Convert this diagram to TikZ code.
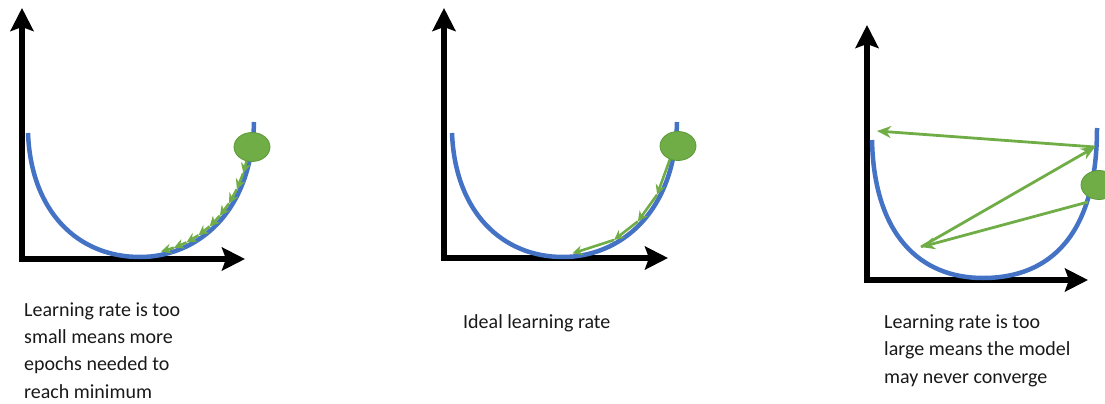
\documentclass[tikz,border=0pt]{standalone}
\usepackage{fontspec}
\setmainfont{Carlito}
\usetikzlibrary{arrows.meta,shapes.geometric,calc}
\definecolor{curveblue}{HTML}{4472C4}
\definecolor{ballgreen}{HTML}{70AD47}
\definecolor{balledge}{HTML}{5B9A38}
\begin{document}
\begin{tikzpicture}[x=1pt,y=-1pt,
  axis/.style={line width=5.5pt,line join=miter,black,
    {Stealth[length=23pt,width=23pt,inset=4pt]}-{Stealth[length=23pt,width=23pt,inset=4pt]}},
  bowl/.style={line width=4.5pt,curveblue},
  ball/.style={ellipse,fill=ballgreen,draw=balledge,line width=0.8pt,
    minimum width=36pt,minimum height=29pt,inner sep=0pt},
  stepline/.style={line width=2.6pt,ballgreen,-{Stealth[length=10pt,width=10pt]}},
  jumpline/.style={line width=2.8pt,ballgreen,-{Stealth[length=14pt,width=12pt]}},
  caption/.style={font=\fontsize{20}{27.3}\selectfont,align=left,anchor=base west,
    inner sep=0pt,text=black!90}]
\useasboundingbox (0,0) rectangle (1105,404);

% ---------- small learning rate ----------
\coordinate (ytopA) at (22,8);
\coordinate (xendA) at (245,259);
\draw[axis] (ytopA) |- (xendA);
\draw[bowl] (28,133) .. controls (31,212) and (78,257) .. (140,257)
  .. controls (195,257) and (252,215) .. (254,122);
\path[shift={(-2,-3)}] (140,257) .. controls (195,257) and (252,215) .. (254,122)
  coordinate[pos=0.86] (a1) coordinate[pos=0.78] (a2) coordinate[pos=0.70] (a3)
  coordinate[pos=0.62] (a4) coordinate[pos=0.54] (a5) coordinate[pos=0.46] (a6)
  coordinate[pos=0.38] (a7) coordinate[pos=0.30] (a8) coordinate[pos=0.22] (a9)
  coordinate[pos=0.14] (a10);
\foreach \u/\v in {a1/a2,a2/a3,a3/a4,a4/a5,a5/a6,a6/a7,a7/a8,a8/a9,a9/a10}
  \draw[stepline] (\u) -- (\v);
\node[ball] (ballA) at (252,147) {};
% the caption node is placed by the baseline of its last line
\node[caption] (textA) at (24,398) {Learning rate is too\\small means more\\epochs needed to\\reach minimum};

% ---------- ideal learning rate ----------
\begin{scope}[xshift=422pt]
\coordinate (ytopB) at (22,8);
\coordinate (xendB) at (246,258);
\draw[axis] (ytopB) |- (xendB);
\draw[bowl] (30,133) .. controls (33,212) and (80,257) .. (141,257)
  .. controls (196,257) and (253,215) .. (255,122);
\path[shift={(-2,-3)}] (141,257) .. controls (196,257) and (253,215) .. (255,122)
  coordinate[pos=0.85] (b1) coordinate[pos=0.67] (b2) coordinate[pos=0.50] (b3)
  coordinate[pos=0.33] (b4) coordinate[pos=0.07] (b5);
\foreach \u/\v in {b1/b2,b2/b3,b3/b4,b4/b5}
  \draw[stepline] (\u) -- (\v);
\node[ball] (ballB) at (256,146) {};
\end{scope}
\node[caption] (textB) at (463,328) {Ideal learning rate};

% ---------- large learning rate ----------
\coordinate (ytopC) at (867,25);
\coordinate (xendC) at (1088,280);
\draw[axis] (ytopC) |- (xendC);
\draw[bowl] (872,140) .. controls (874,235) and (920,278) .. (983,278)
  .. controls (1050,278) and (1097,235) .. (1097,128);
\node[ball] (ballC) at (1099,185) {};
\coordinate (c1) at (1088,202);
\coordinate (c2) at (921,247);
\coordinate (c3) at (1095,147);
\coordinate (c4) at (877,131);
\draw[jumpline] (c1) -- (c2);
\draw[jumpline] (c2) -- (c3);
\draw[jumpline] (c3) -- (c4);
\node[caption] (textC) at (884,383) {Learning rate is too\\large means the model\\may never converge};
\end{tikzpicture}
\end{document}
